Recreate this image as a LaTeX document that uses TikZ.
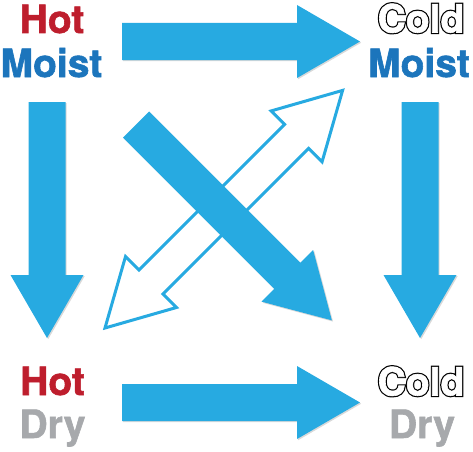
\documentclass[tikz,border=0pt]{standalone}
\usepackage{fontspec}
\usetikzlibrary{shadows}
\newfontfamily\heavyfont[FakeBold=1.5]{TeX Gyre Heros Bold}
\newfontfamily\outlinefont{TeX Gyre Heros Bold}
\definecolor{arrowblue}{HTML}{27AAE1}
\definecolor{moistblue}{HTML}{1C75BC}
\definecolor{hotred}{HTML}{BE1E2D}
\definecolor{drygray}{HTML}{A7A9AC}
% hollow text: thick black glyph, white glyph on top
\newcommand{\hollow}[1]{\rlap{\special{pdf:literal direct q 2 Tr 3 w}#1\special{pdf:literal direct Q}}\textcolor{white}{\special{pdf:literal direct q 2 Tr 0.6 w}#1\special{pdf:literal direct Q}}}
% block arrow along +x, tip at (#1,0)
\newcommand{\blockarrow}[1]{(0,-18.5) -- ({#1-63},-18.5) -- ({#1-63},-36.5) -- (#1,0) -- ({#1-63},36.5) -- ({#1-63},18.5) -- (0,18.5) -- cycle}
% double headed arrow, tips at (0,0) and (#1,0)
\newcommand{\twowayarrow}[1]{(0,0) -- (65,36) -- (65,17) -- ({#1-65},17) -- ({#1-65},36) -- (#1,0) -- ({#1-65},-36) -- ({#1-65},-17) -- (65,-17) -- (65,-36) -- cycle}
\tikzset{
  arrowfill/.style={fill=arrowblue,drop shadow={shadow xshift=1.2pt,shadow yshift=-1.2pt,opacity=0.3}},
  arrowline/.style={draw=arrowblue,fill=white,line width=3pt,line join=miter},
  lbl/.style={font=\heavyfont\fontsize{39}{39}\selectfont,inner sep=0pt,anchor=base},
  hollowlbl/.style={lbl,font=\outlinefont\fontsize{39}{39}\selectfont},
}
\begin{document}
\begin{tikzpicture}[x=1pt,y=1pt]
\useasboundingbox (0,0) rectangle (473,451);

% labels
\node[hollowlbl] (coldB) at (421,418.5) {\hollow{Cold}};
\node[hollowlbl] (coldD) at (421,55.5) {\hollow{Cold}};
\node[lbl,text=hotred] (hotA) at (52,418) {Hot};
\node[lbl,text=moistblue] (moistA) at (51.5,374) {Moist};
\node[lbl,text=moistblue] (moistB) at (419,374) {Moist};
\node[lbl,text=hotred] (hotC) at (52.5,56) {Hot};
\node[lbl,text=drygray] (dryC) at (52.5,13) {Dry};
\node[lbl,text=drygray] (dryD) at (422,13) {Dry};

% arrows
\fill[arrowfill,shift={(122,409.5)}] \blockarrow{238};
\fill[arrowfill,shift={(122,48.5)}] \blockarrow{238};
\fill[arrowfill,shift={(47,349)},rotate=-90] \blockarrow{236};
\fill[arrowfill,shift={(420,349)},rotate=-90] \blockarrow{236};

\filldraw[arrowline,shift={(105,123)},rotate=45] \twowayarrow{336};
\fill[arrowfill,shift={(136,326.5)},rotate=-45] \blockarrow{277};

\end{tikzpicture}
\end{document}
